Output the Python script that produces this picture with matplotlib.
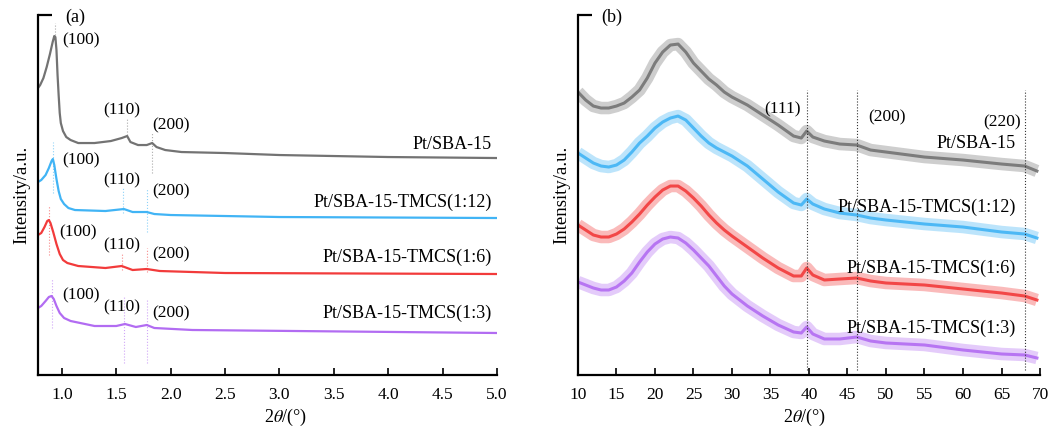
import matplotlib
matplotlib.use("Agg")
import matplotlib.pyplot as plt

# ---------- data
labels = ["Pt/SBA-15", "Pt/SBA-15-TMCS(1:12)", "Pt/SBA-15-TMCS(1:6)", "Pt/SBA-15-TMCS(1:3)"]
colors = ["#737373", "#41b4f5", "#f23b3b", "#b26cf2"]
hkl_a = ["(100)", "(110)", "(200)"]
hkl_b = ["(111)", "(200)", "(220)"]

# small angle XRD (a), intensity in arbitrary units
x_a_gray = [0.78, 0.80, 0.83, 0.86, 0.89, 0.915, 0.93, 0.94, 0.95, 0.96, 0.97, 0.98, 0.99, 1.01, 1.04, 1.08,
            1.15, 1.3, 1.45, 1.55, 1.6, 1.63, 1.7, 1.78, 1.83, 1.87, 1.95, 2.1, 2.5, 3.0, 4.0, 5.0]
y_a_gray = [287, 290, 297, 308, 321, 333, 339, 338, 325, 300, 280, 262, 252, 244, 238, 235,
            232, 232, 234, 237, 239, 233, 230, 230, 232, 228, 225, 223, 222, 220, 218, 217]
x_a_blue = [0.78, 0.81, 0.85, 0.88, 0.905, 0.917, 0.93, 0.95, 0.97, 0.99, 1.02, 1.06, 1.12,
            1.4, 1.57, 1.65, 1.78, 1.85, 2.0, 3.0, 5.0]
y_a_blue = [193, 195, 200, 207, 214, 216, 210, 196, 184, 176, 171, 167, 165,
            164, 166, 163, 163, 161, 160, 158, 157]
x_a_red = [0.78, 0.81, 0.84, 0.865, 0.88, 0.895, 0.92, 0.95, 0.98, 1.01, 1.05, 1.15,
           1.4, 1.55, 1.65, 1.78, 1.9, 2.5, 5.0]
y_a_red = [140, 142, 148, 154, 155, 152, 143, 131, 121, 115, 112, 109,
           107, 109, 105, 106, 104, 102, 101]
x_a_purple = [0.78, 0.81, 0.85, 0.88, 0.905, 0.925, 0.95, 0.98, 1.02, 1.08, 1.3,
              1.5, 1.58, 1.68, 1.78, 1.85, 2.2, 5.0]
y_a_purple = [67, 69, 74, 78, 79, 76, 69, 62, 57, 54, 49,
              49, 51, 48, 50, 47, 45, 42]

# peak positions (a) for each sample: (100), (110), (200)
peaks_a = [[0.935, 1.60, 1.83], [0.917, 1.56, 1.78], [0.88, 1.55, 1.78], [0.905, 1.575, 1.78]]

# wide angle XRD (b)
x_b = [10, 11, 12, 13, 14, 15, 16, 17, 18, 19, 20, 21, 22, 23, 24, 25, 26, 27, 28, 29, 30,
       32, 34, 36, 38, 39, 39.7, 40.5, 42, 44, 46.2, 48, 50, 55, 60, 65, 68, 69.6]
y_b_gray = [283, 275, 269, 267, 267, 269, 272, 278, 285, 297, 312, 323, 330, 331, 323, 312, 304, 296, 290, 283, 278,
            270, 260, 250, 239, 237, 244, 238, 234, 231, 230, 225, 223, 218, 215, 211, 209, 204]
y_b_blue = [222, 217, 212, 209, 208, 210, 215, 223, 232, 239, 247, 253, 257, 259, 255, 247, 239, 232, 227, 223, 219,
            209, 196, 183, 172, 170, 176, 171, 166, 162, 160, 157, 155, 151, 148, 143, 141, 137]
y_b_red = [150, 145, 140, 138, 138, 141, 146, 153, 161, 170, 178, 185, 189, 189, 184, 177, 169, 160, 152, 145, 139,
           128, 117, 107, 99, 99, 107, 100, 95, 96, 97, 94, 92, 90, 86, 82, 79, 75]
y_b_purple = [93, 90, 87, 85, 85, 88, 94, 102, 113, 123, 131, 136, 138, 137, 132, 125, 117, 109, 99, 89, 81,
              69, 59, 50, 43, 42, 48, 41, 36, 36, 38, 34, 32, 30, 25, 21, 20, 17]
peaks_b = [39.7, 46.2, 68.0]

# ---------- plotting
plt.rcParams['font.family'] = ['Liberation Serif', 'DejaVu Serif']
plt.rcParams['mathtext.fontset'] = 'stix'

fig = plt.figure(figsize=(10.52, 4.29), dpi=100)
ax1 = fig.add_axes([0.0361, 0.1259, 0.4363, 0.839])
ax2 = fig.add_axes([0.5494, 0.1259, 0.4392, 0.839])

for ax in (ax1, ax2):
    ax.spines['top'].set_visible(False)
    ax.spines['right'].set_visible(False)
    ax.spines['left'].set_linewidth(1.6)
    ax.spines['bottom'].set_linewidth(1.6)
    ax.set_ylim(0, 360)
    ax.set_yticks([360])
    ax.set_yticklabels([])
    ax.tick_params(axis='y', direction='in', length=10, width=1.6)
    ax.tick_params(axis='x', direction='in', length=5, width=1.2, labelsize=12.5, pad=9)
    ax.set_ylabel('Intensity/a.u.', fontsize=13.5, labelpad=2)
    ax.set_xlabel(r'2$\it{\theta}$/(°)', fontsize=13)

# (a)
xs_a = [x_a_gray, x_a_blue, x_a_red, x_a_purple]
ys_a = [y_a_gray, y_a_blue, y_a_red, y_a_purple]
for xs, ys, c in zip(xs_a, ys_a, colors):
    ax1.plot(xs, ys, color=c, lw=1.6, solid_joinstyle='round')

# dotted peak markers (a)
vspan_a = [[(340, 352), (240, 257), (202, 243)],
           [(182, 233), (162, 187), (143, 187)],
           [(120, 170), (105, 122), (103, 127)],
           [(47, 97), (12, 78), (12, 75)]]
for pk, spans, c in zip(peaks_a, vspan_a, colors):
    for p, (lo, hi) in zip(pk, spans):
        ax1.plot([p, p], [lo, hi], color=c, lw=0.8, ls=':', alpha=0.6)

# hkl text (a): left x and centre y for each sample
hkl_pos_a = [[(1.0, 335), (1.377, 265), (1.828, 250)],
             [(1.0, 215), (1.377, 195), (1.828, 184)],
             [(0.98, 143), (1.377, 130), (1.828, 121)],
             [(1.0, 80), (1.377, 68), (1.828, 62)]]
for pos in hkl_pos_a:
    for t, (x, y) in zip(hkl_a, pos):
        ax1.text(x, y, t, fontsize=12.5, ha='left', va='center')

for lab, y in zip(labels, [231, 173, 118, 62]):
    ax1.text(4.954, y, lab, fontsize=13, ha='right', va='center')

ax1.set_xlim(0.78, 5.0)
ax1.set_xticks([1.0, 1.5, 2.0, 2.5, 3.0, 3.5, 4.0, 4.5, 5.0])
ax1.set_xticklabels(['1.0', '1.5', '2.0', '2.5', '3.0', '3.5', '4.0', '4.5', '5.0'])
ax1.text(0.06, 0.995, '(a)', transform=ax1.transAxes, fontsize=13, ha='left', va='center')
ax1.xaxis.set_label_coords(0.54, -0.088)

# (b)
for ys, c in zip([y_b_gray, y_b_blue, y_b_red, y_b_purple], colors):
    ax2.plot(x_b, ys, color=c, lw=9, alpha=0.35, solid_joinstyle='round', solid_capstyle='butt')
    ax2.plot(x_b, ys, color=c, lw=2.2, alpha=0.9)

for p in peaks_b:
    ax2.plot([p, p], [5, 285], color='#333333', lw=0.8, ls=':')

for t, (x, y) in zip(hkl_b, [(36.5, 266), (50.1, 258), (65.1, 253)]):
    ax2.text(x, y, t, fontsize=12.5, ha='center', va='center')

for lab, y in zip(labels, [232, 168, 107, 47]):
    ax2.text(66.9, y, lab, fontsize=13, ha='right', va='center')

ax2.set_xlim(10, 70)
ax2.set_xticks(range(10, 71, 5))
ax2.text(0.05, 0.995, '(b)', transform=ax2.transAxes, fontsize=13, ha='left', va='center')
ax2.xaxis.set_label_coords(0.49, -0.088)

plt.savefig("out.png", dpi=100)
